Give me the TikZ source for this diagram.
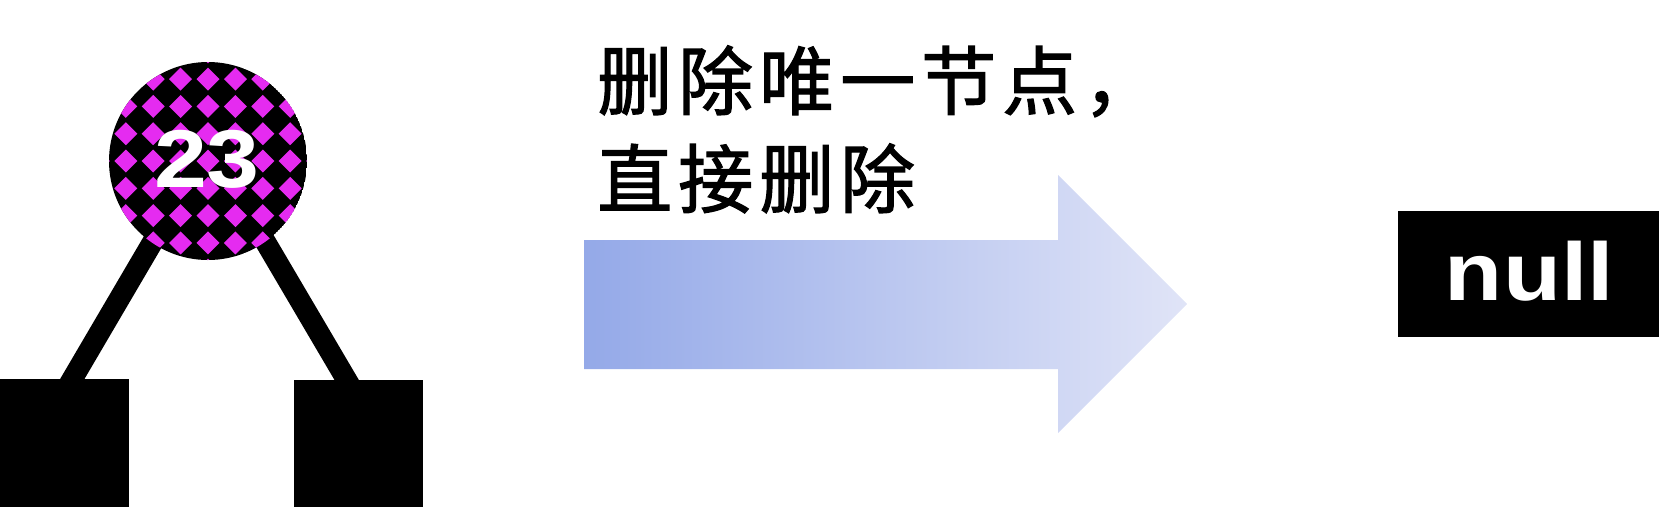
\documentclass[tikz,border=0pt]{standalone}
\usepackage{fontspec}
\setmainfont{Liberation Sans}
\newfontfamily\cjkfont{Noto Sans CJK SC}[LetterSpace=8,FakeBold=1.6]
\definecolor{mag}{RGB}{229,43,240}
\definecolor{arrowL}{RGB}{148,169,232}
\definecolor{arrowR}{RGB}{224,228,247}
\tikzset{
  edge/.style={line width=21pt, black},
  leaf/.style={rectangle, fill=black, inner sep=0pt, minimum width=129pt, anchor=north west},
  numtext/.style={text=white, inner sep=0pt, font=\bfseries\fontsize{82}{90}\selectfont},
  cjktext/.style={text=black, inner sep=0pt, anchor=base west, font=\cjkfont\fontsize{75}{85}\selectfont},
  nullbox/.style={rectangle, fill=black, inner sep=0pt, minimum width=261pt, minimum height=126pt}
}
\begin{document}
\begin{tikzpicture}[x=1pt,y=-1pt]
\useasboundingbox (0,0) rectangle (1661,507);
% tree connectors
\coordinate (apex) at (209,146);
\coordinate (lfoot) at (67,388);
\coordinate (rfoot) at (352,389);
\draw[edge] (apex) -- (lfoot);
\draw[edge] (apex) -- (rfoot);
% patterned circle
\begin{scope}
  \clip (208,161) circle (99);
  \fill[black] (208,161) circle (99);
  \foreach \i in {-4,...,4}{
    \foreach \j in {-4,...,4}{
      \fill[mag] ({208+27.4*\i},{161+27.3*\j}) +(-11.5,0) -- +(0,-11.5) -- +(11.5,0) -- +(0,11.5) -- cycle;
    }
  }
\end{scope}
\node[circle, minimum size=198pt, inner sep=0pt] (c) at (208,161) {};
\node[numtext, anchor=base] (n23) at (207,187) {\scalebox{1.16}[1]{23}};
% leaves
\node[leaf, minimum height=128pt] (l) at (0,379) {};
\node[leaf, minimum height=127pt] (r) at (294,380) {};
% arrow
\shade[left color=arrowL, right color=arrowR]
  (584,240) -- (1058,240) -- (1058,175) -- (1187,304) -- (1058,433) -- (1058,369) -- (584,369) -- cycle;
% text
\node[cjktext] (t1) at (597,109) {删除唯一节点，};
\node[cjktext] (t2) at (597,207) {直接删除};
% null
\node[nullbox] (nullb) at (1528.5,274) {};
\node[numtext, anchor=base] (nullt) at (1529.5,300) {\scalebox{1.16}[1]{null}};
\end{tikzpicture}
\end{document}
